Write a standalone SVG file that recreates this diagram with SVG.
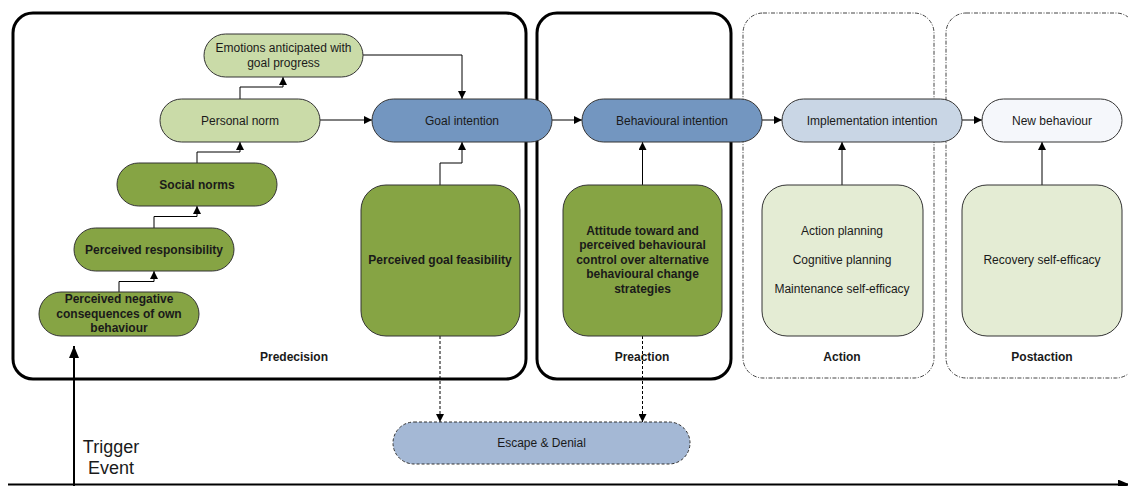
<svg xmlns="http://www.w3.org/2000/svg" width="1128" height="486" viewBox="0 0 1128 486">
<defs>
<marker id="ah" markerWidth="8" markerHeight="8" refX="8" refY="4" orient="auto" markerUnits="userSpaceOnUse"><path d="M0,0 L8,4 L0,8 Z" fill="#000"/></marker>
<marker id="ah2" markerWidth="12" markerHeight="12" refX="12" refY="5" orient="auto" markerUnits="userSpaceOnUse"><path d="M0,0 L12,5 L0,10 Z" fill="#000"/></marker>
<style>
text{font-family:"Liberation Sans",Arial,sans-serif;font-size:12px;fill:#1a1a1a;text-anchor:middle}
.b{font-weight:bold;font-size:12px}
.n{stroke:#333;stroke-width:1}
.dg{fill:#86A444}
.lg{fill:#CADBA8}
.bl{fill:#7396C0}
.lb{fill:#C9D6E5}
.pg{fill:#E4ECD4}
.phase{fill:none;stroke:#000;stroke-width:3}
.phd{fill:none;stroke:#444;stroke-width:1;stroke-dasharray:4 1.5 1 1.5}
.c{fill:none;stroke:#000;stroke-width:1;marker-end:url(#ah)}
.cd{fill:none;stroke:#000;stroke-width:1;stroke-dasharray:3 2;marker-end:url(#ah)}
</style>
</defs>
<rect width="1128" height="486" fill="#fff"/>
<g id="phases">
<rect x="13" y="13" width="513" height="366" rx="20" class="phase"/>
<rect x="537" y="13" width="194" height="366" rx="20" class="phase"/>
<rect x="743" y="13" width="191" height="365" rx="20" class="phd"/>
<rect x="946" y="13" width="190" height="365" rx="20" class="phd"/>
<text x="294" y="361" class="b">Predecision</text>
<text x="642" y="361" class="b">Preaction</text>
<text x="842" y="361" class="b">Action</text>
<text x="1042" y="361" class="b">Postaction</text>
</g>
<g id="connectors">
<path d="M119,292 V281.5 H154 V271" class="c"/>
<path d="M154,228 V216.5 H197 V206" class="c"/>
<path d="M197,163 V152 H240 V142" class="c"/>
<path d="M240,99 V87 H283 V77" class="c"/>
<path d="M363,55 H462 V99" class="c"/>
<path d="M320,120 H372" class="c"/>
<path d="M440,185 V163 H462 V142" class="c"/>
<path d="M552,120 H582" class="c"/>
<path d="M642.5,185 V142" class="c"/>
<path d="M762,120 H782" class="c"/>
<path d="M962,120 H982" class="c"/>
<path d="M842,185 V142" class="c"/>
<path d="M1042,185 V142" class="c"/>
<path d="M440,336 V422" class="cd"/>
<path d="M642.5,336 V422" class="cd"/>
<path d="M8,484.5 H1130" fill="none" stroke="#000" stroke-width="2" marker-end="url(#ah2)"/>
<path d="M74,486 V346" fill="none" stroke="#000" stroke-width="2" marker-end="url(#ah2)"/>
<text x="111" y="453" style="font-size:18px">Trigger</text>
<text x="111" y="474" style="font-size:18px">Event</text>
</g>
<g id="emotions"><rect x="204" y="34" width="159" height="43" rx="21.5" class="n lg"/><text x="283.5" y="52">Emotions anticipated with</text><text x="283.5" y="67">goal progress</text></g>
<g id="personal-norm"><rect x="160" y="99" width="160" height="43" rx="21.5" class="n lg"/><text x="240" y="124.5">Personal norm</text></g>
<g id="social-norms"><rect x="117" y="163" width="160" height="43" rx="21.5" class="n dg"/><text x="197" y="188.5" class="b">Social norms</text></g>
<g id="perceived-responsibility"><rect x="74" y="228" width="160" height="43" rx="21.5" class="n dg"/><text x="154" y="253.5" class="b">Perceived responsibility</text></g>
<g id="perceived-negative"><rect x="39" y="292" width="160" height="44" rx="22" class="n dg"/><text x="119" y="303" class="b">Perceived negative</text><text x="119" y="318" class="b">consequences of own</text><text x="119" y="332" class="b">behaviour</text></g>
<g id="goal-intention"><rect x="372" y="99" width="180" height="43" rx="21.5" class="n bl"/><text x="462" y="124.5">Goal intention</text></g>
<g id="goal-feasibility"><rect x="361" y="185" width="159" height="151" rx="25" class="n dg"/><text x="440" y="264" class="b">Perceived goal feasibility</text></g>
<g id="behavioural-intention"><rect x="582" y="99" width="180" height="43" rx="21.5" class="n bl"/><text x="672" y="124.5">Behavioural intention</text></g>
<g id="attitude"><rect x="563" y="185" width="159" height="151" rx="25" class="n dg"/><text x="642.5" y="235" class="b">Attitude toward and</text><text x="642.5" y="249" class="b">perceived behavioural</text><text x="642.5" y="264" class="b">control over alternative</text><text x="642.5" y="278" class="b">behavioural change</text><text x="642.5" y="293" class="b">strategies</text></g>
<g id="implementation-intention"><rect x="782" y="99" width="180" height="43" rx="21.5" class="n lb"/><text x="872" y="124.5">Implementation intention</text></g>
<g id="action-planning"><rect x="762" y="185" width="161" height="151" rx="25" class="n pg"/><text x="842" y="235">Action planning</text><text x="842" y="264">Cognitive planning</text><text x="842" y="293">Maintenance self-efficacy</text></g>
<g id="new-behaviour"><rect x="982" y="99" width="140" height="43" rx="21.5" class="n" fill="#F5F7FB"/><text x="1052" y="124.5">New behaviour</text></g>
<g id="recovery"><rect x="962" y="185" width="160" height="151" rx="25" class="n pg"/><text x="1042" y="264">Recovery self-efficacy</text></g>
<g id="escape-denial"><rect x="393" y="422" width="297" height="42" rx="21" fill="#A4B8D5" stroke="#333" stroke-width="1" stroke-dasharray="3 2"/><text x="541.5" y="447">Escape &amp; Denial</text></g>
</svg>
